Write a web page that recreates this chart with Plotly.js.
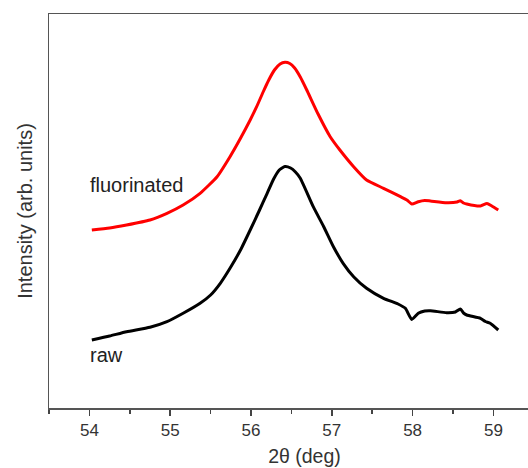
<!DOCTYPE html>
<html>
<head>
<meta charset="utf-8">
<script src="https://cdn.plot.ly/plotly-3.0.1.min.js"></script>
<style>
html,body{margin:0;padding:0;overflow:hidden;background:#fff;}
#chart{width:560px;height:468px;}
</style>
</head>
<body>
<div id="chart"></div>
<script>
// 2theta (deg)
const rawX = [54.03,54.25,54.46,54.75,54.96,55.16,55.37,55.50,55.62,55.74,55.87,55.99,56.10,56.20,56.28,56.35,56.42,56.49,56.55,56.61,56.77,56.90,57.02,57.14,57.27,57.43,57.64,57.82,57.91,57.99,58.07,58.15,58.22,58.42,58.53,58.59,58.63,58.67,58.84,58.90,58.96,59.06];
// Intensity (arb. units), raw sample
const rawY = [68,72,76.3,80.7,86.3,94.7,104.7,113,124.7,139.7,158,178,197,214.7,229,238,241.5,240,236,229.7,201.3,181.3,161.3,144.7,131.3,119.7,109.7,104,99.7,88.5,94.7,97,97.3,95.3,96,99,95,93,89.7,86.5,84.7,78];

const fluX = [54.03,54.25,54.46,54.75,54.96,55.16,55.37,55.58,55.74,55.87,55.99,56.07,56.15,56.22,56.29,56.36,56.42,56.48,56.54,56.61,56.69,56.83,56.98,57.10,57.27,57.43,57.64,57.85,57.93,57.99,58.07,58.15,58.22,58.42,58.55,58.59,58.63,58.67,58.84,58.92,58.98,59.06];
// Intensity (arb. units), fluorinated sample
const fluY = [178,180,183,188,194.7,203,214.7,231.3,251.3,269.7,288,301.3,316,328,338,344,345.7,344.5,340,331,318,294,271.3,258,241.3,228,219.7,211.3,208,204,206.3,207.5,207,205.3,206,207.3,205,204,202,204.5,202,198];

const tickVals = [54,55,56,57,58,59];
const tickText = ["54","55","56","57","58","59"];
const labels = [{text:"fluorinated", x:53.98, y:223},{text:"raw", x:53.98, y:53}];

const font = "Liberation Sans, Arial, sans-serif";

const traces = [
  {x: rawX, y: rawY, mode:"lines", line:{color:"#000000", width:3, shape:"spline", smoothing:0.5}, name:"raw", hoverinfo:"skip"},
  {x: fluX, y: fluY, mode:"lines", line:{color:"#ff0000", width:3, shape:"spline", smoothing:0.5}, name:"fluorinated", hoverinfo:"skip"}
];

const layout = {
  width:560, height:468,
  margin:{l:49, r:0, t:14, b:60},
  paper_bgcolor:"#ffffff", plot_bgcolor:"#ffffff",
  showlegend:false,
  xaxis:{
    range:[53.5, 59.824],
    tickvals:tickVals, ticktext:tickText,
    ticks:"outside", ticklen:6, tickwidth:1.5, tickcolor:"#444",
    minor:{dtick:0.5, tick0:53.5, ticks:"outside", ticklen:4, tickwidth:1.5, tickcolor:"#444"},
    showline:true, linecolor:"#555", linewidth:1.5, mirror:true,
    showgrid:false, zeroline:false,
    tickfont:{family:font, size:17, color:"#333"},
    title:{text:"2θ (deg)", font:{family:font, size:19.5, color:"#333"}, standoff:10}
  },
  yaxis:{
    range:[0,394],
    showticklabels:false, ticks:"",
    showline:true, linecolor:"#555", linewidth:1.5, mirror:true,
    showgrid:false, zeroline:false,
    title:{text:"Intensity (arb. units)", font:{family:font, size:20, color:"#333"}, standoff:9}
  },
  annotations: labels.map(l => ({
    text:l.text, x:l.x, y:l.y, xref:"x", yref:"y", xanchor:"left", yanchor:"middle",
    showarrow:false, font:{family:font, size:20, color:"#222"}
  }))
};

Plotly.newPlot("chart", traces, layout, {displayModeBar:false, staticPlot:true});
</script>
</body>
</html>
